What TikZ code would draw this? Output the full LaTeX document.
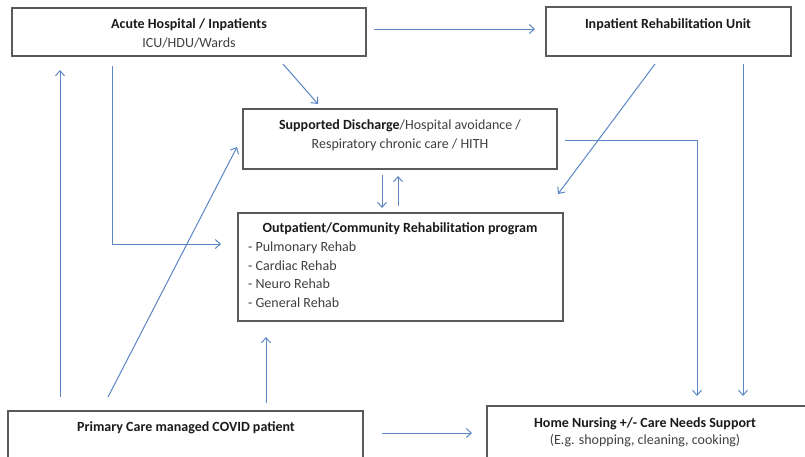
\documentclass[tikz,border=0pt]{standalone}
\usepackage{fontspec}
\setmainfont{Carlito}
\usetikzlibrary{arrows.meta}
\definecolor{arr}{HTML}{5B87C5}
\definecolor{boxc}{HTML}{5A5A5A}
\definecolor{txt}{HTML}{404040}
\definecolor{txtb}{HTML}{1A1A1A}
\begin{document}
\begin{tikzpicture}[x=1pt,y=-1pt,
 box/.style={draw=boxc, line width=1.3pt, fill=white, rectangle, inner sep=0pt, outer sep=0pt, anchor=north west},
 lbl/.style={inner sep=0pt, anchor=base, font=\fontsize{14}{18}\selectfont, text=txt},
 lblb/.style={lbl, text=txtb, font=\fontsize{14}{18}\selectfont\bfseries},
 conn/.style={draw=arr, line width=1pt, -{Straight Barb[length=5pt,width=9pt]}}]
\useasboundingbox (0,0) rectangle (805,456);
\fill[white] (0,0) rectangle (805,456);
% boxes
\node[box, minimum width=354pt, minimum height=48pt] (acute) at (12,8) {};
\node[box, minimum width=245pt, minimum height=49pt] (iru) at (546,7) {};
\node[box, minimum width=314pt, minimum height=60pt] (sd) at (243,109) {};
\node[box, minimum width=325pt, minimum height=108pt] (op) at (238,213) {};
\node[box, minimum width=355pt, minimum height=60pt] (pc) at (8,411) {};
\node[box, minimum width=330pt, minimum height=60pt] (hn) at (487,406) {};
% texts
\node[lblb] (acuteT1) at (189,28.5) {Acute Hospital / Inpatients};
\node[lbl] (acuteT2) at (189,47.5) {ICU/HDU/Wards};
\node[lblb] (iruT) at (668,28.5) {Inpatient Rehabilitation Unit};
\node[lbl] (sdT1) at (400,129.5) {\textcolor{txtb}{\bfseries Supported Discharge}/Hospital avoidance /};
\node[lbl] (sdT2) at (400,148) {Respiratory chronic care / HITH};
\node[lblb] (opT) at (400,232.5) {Outpatient/Community Rehabilitation program};
\node[lbl, anchor=base west] (opL1) at (248,251.5) {- Pulmonary Rehab};
\node[lbl, anchor=base west] (opL2) at (248,270.5) {- Cardiac Rehab};
\node[lbl, anchor=base west] (opL3) at (248,288.5) {- Neuro Rehab};
\node[lbl, anchor=base west] (opL4) at (248,307.5) {- General Rehab};
\node[lblb] (pcT) at (186,431.5) {Primary Care managed COVID patient};
\node[lblb] (hnT1) at (645,427.5) {Home Nursing +/- Care Needs Support};
\node[lbl] (hnT2) at (645,444.5) {(E.g. shopping, cleaning, cooking)};
% connector end points
\coordinate (a1s) at (374,29);  \coordinate (a1e) at (535,29);
\coordinate (a2s) at (283,64);  \coordinate (a2e) at (318,104);
\coordinate (a3s) at (112,66);  \coordinate (a3e) at (221,244);
\coordinate (a4s) at (60,397);  \coordinate (a4e) at (60,70);
\coordinate (a5s) at (108,397); \coordinate (a5e) at (237,147);
\coordinate (a6s) at (266,403); \coordinate (a6e) at (266,337);
\coordinate (a7s) at (382,433); \coordinate (a7e) at (472,433);
\coordinate (a8s) at (655,64);  \coordinate (a8e) at (558,194);
\coordinate (a9s) at (743,64);  \coordinate (a9e) at (743,396);
\coordinate (a10s) at (565,140); \coordinate (a10e) at (697,396);
\coordinate (a11s) at (382,175); \coordinate (a11e) at (382,208);
\coordinate (a12s) at (398,206); \coordinate (a12e) at (398,176);
% connectors
\draw[conn] (a1s) -- (a1e);
\draw[conn] (a2s) -- (a2e);
\draw[conn] (a3s) |- (a3e);
\draw[conn] (a4s) -- (a4e);
\draw[conn] (a5s) -- (a5e);
\draw[conn] (a6s) -- (a6e);
\draw[conn] (a7s) -- (a7e);
\draw[conn] (a8s) -- (a8e);
\draw[conn] (a9s) -- (a9e);
\draw[conn] (a10s) -| (a10e);
\draw[conn] (a11s) -- (a11e);
\draw[conn] (a12s) -- (a12e);
\end{tikzpicture}
\end{document}
